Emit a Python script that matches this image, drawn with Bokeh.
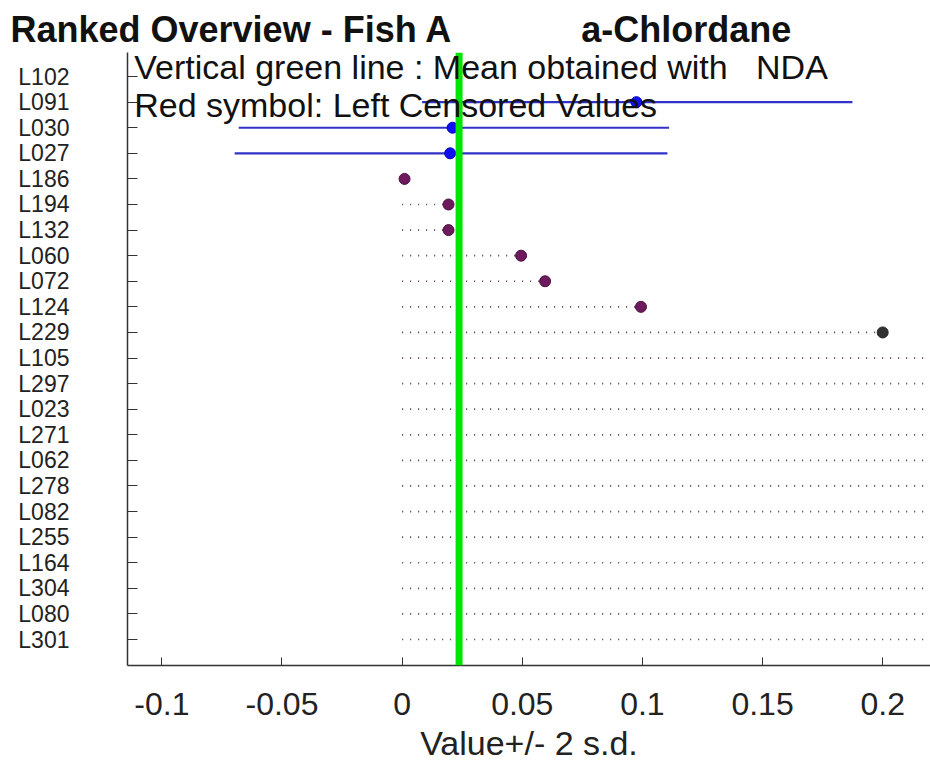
from bokeh.plotting import figure
from bokeh.models import Range1d, FixedTicker, Span, Label
from bokeh.embed import file_html
from bokeh.resources import INLINE

NB = "\u00a0"

# ---- data (top row first) ----
labs = ["L102", "L091", "L030", "L027", "L186", "L194", "L132", "L060", "L072", "L124",
        "L229", "L105", "L297", "L023", "L271", "L062", "L278", "L082", "L255", "L164",
        "L304", "L080", "L301"]
values = [float("nan"), 0.0975, 0.021, 0.020, 0.001, 0.0193, 0.0193, 0.0495, 0.0595, 0.0994,
          0.200, 0.25, 0.25, 0.30, 0.40, 0.50, 0.50, 0.50, 1.0, 1.0, 1.0, 2.0, 5.0]
# error bars (value +/- 2 s.d.) only for the non-censored (blue) labs
err_labs = ["L091", "L030", "L027"]
err_lo = [0.0083, -0.0680, -0.0697]
err_hi = [0.1874, 0.1111, 0.1104]
# left censored labs: dotted from 0 to the reported limit
cens_labs = ["L186", "L194", "L132", "L060", "L072", "L124", "L229", "L105", "L297", "L023",
             "L271", "L062", "L278", "L082", "L255", "L164", "L304", "L080", "L301"]
mean_nda = 0.0237
xticks = [-0.1, -0.05, 0, 0.05, 0.1, 0.15, 0.2]
xtick_labels = ["-0.1", "-0.05", "0", "0.05", "0.1", "0.15", "0.2"]

n = len(labs)
ypos = {lab: n - i for i, lab in enumerate(labs)}

p = figure(width=930, height=773, output_backend="svg", toolbar_location=None,
           x_range=Range1d(-0.1143, 0.2199), y_range=Range1d(-0.016, 23.94),
           min_border_left=127, min_border_right=0, min_border_top=52, min_border_bottom=108)
p.outline_line_color = None
p.xgrid.visible = False
p.ygrid.visible = False
p.background_fill_color = "white"
p.border_fill_color = "white"

# title (two parts separated by a wide gap)
p.title.text = "Ranked Overview - Fish A" + NB * 13 + "a-Chlordane"
p.title.text_font = "Liberation Sans"
p.title.text_font_size = "36px"
p.title.text_font_style = "bold"
p.title.text_color = "#111111"
p.title.align = "left"
p.title.offset = -117
p.title.standoff = 5

# axes
p.xaxis.ticker = FixedTicker(ticks=xticks)
p.xaxis.major_label_overrides = {t: s for t, s in zip(xticks, xtick_labels)}
p.xaxis.minor_tick_line_color = None
p.xaxis.major_tick_in = 8
p.xaxis.major_tick_out = 0
p.xaxis.major_label_standoff = 27
p.xaxis.major_label_text_font = "Liberation Sans"
p.xaxis.major_label_text_font_size = "32px"
p.xaxis.major_label_text_color = "#222222"
p.xaxis.axis_label = "Value+/- 2 s.d."
p.xaxis.axis_label_text_font = "Liberation Sans"
p.xaxis.axis_label_text_font_size = "34px"
p.xaxis.axis_label_text_font_style = "normal"
p.xaxis.axis_label_text_color = "#222222"
p.xaxis.axis_label_standoff = 6
p.xaxis.axis_line_color = "#333333"
p.xaxis.axis_line_width = 1.5
p.xaxis.major_tick_line_color = "#333333"

p.yaxis.ticker = FixedTicker(ticks=[ypos[l] for l in labs])
p.yaxis.major_label_overrides = {ypos[l]: l for l in labs}
p.yaxis.minor_tick_line_color = None
p.yaxis.major_tick_in = 10
p.yaxis.major_tick_out = 0
p.yaxis.major_label_standoff = 58
p.yaxis.major_label_text_font = "Liberation Sans"
p.yaxis.major_label_text_font_size = "23px"
p.yaxis.major_label_text_color = "#222222"
p.yaxis.axis_line_color = "#333333"
p.yaxis.axis_line_width = 1.5
p.yaxis.major_tick_line_color = "#333333"

# censored: dotted line from 0 to limit
cv = [values[labs.index(l)] for l in cens_labs]
cy = [ypos[l] for l in cens_labs]
p.segment(x0=[0] * len(cv), y0=cy, x1=cv, y1=cy, line_color="#553048",
          line_width=1.7, line_dash="1 7")

# error bars
ey = [ypos[l] for l in err_labs]
p.segment(x0=err_lo, y0=ey, x1=err_hi, y1=ey, line_color="#3232c8", line_width=2.2)

# mean line
p.add_layout(Span(location=mean_nda, dimension="height", line_color="#00e600", line_width=7))

# markers
ev = [values[labs.index(l)] for l in err_labs]
p.scatter(ev, ey, size=11, fill_color="#1010f0", line_color="#0000c0")
pur = [l for l in cens_labs if l != "L229"]
p.scatter([values[labs.index(l)] for l in pur], [ypos[l] for l in pur], size=11,
          fill_color="#6e1a5e", line_color="#4a0f40")
p.scatter([values[labs.index("L229")]], [ypos["L229"]], size=11,
          fill_color="#303030", line_color="#202020")

# texts inside the plot
def lab(x, y, text, size):
    p.add_layout(Label(x=x, y=y, text=text, text_font="Liberation Sans",
                       text_font_size=size, text_color="#111111",
                       text_baseline="alphabetic", text_align="left"))

lab(-0.1115, 23.39, "Vertical green line : Mean obtained with" + NB * 3 + "NDA", "34px")
lab(-0.1115, 21.88, "Red symbol: Left Censored Values", "34px")

open("out.html", "w").write(file_html(p, INLINE))
